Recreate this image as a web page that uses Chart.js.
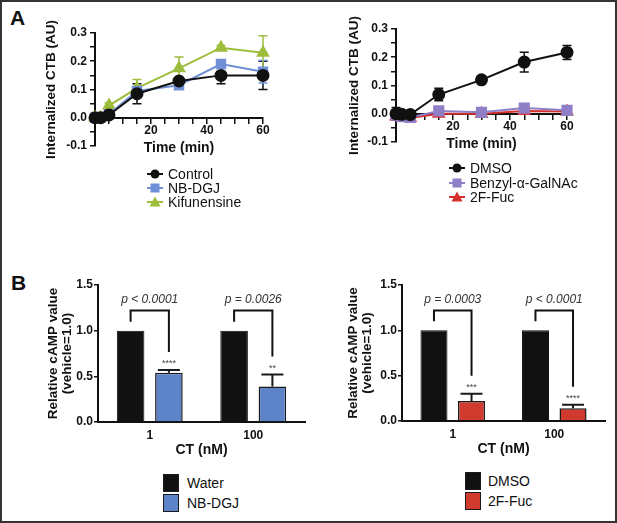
<!DOCTYPE html>
<html lang="en">
<head>
<meta charset="UTF-8">
<script src="https://cdn.jsdelivr.net/npm/chart.js"></script>
<style>
  body { margin: 0; background: #fff; font-family: 'Liberation Sans', Arial, sans-serif; color: #111; }
  #fig { position: relative; width: 617px; height: 523px; overflow: hidden; background: #fff; }
  #frame { position: absolute; left: 0; top: 0; width: 617px; height: 523px; box-sizing: border-box; border: 2px solid #333; pointer-events: none; }
  canvas { position: absolute; }
  .tag { position: absolute; font-weight: bold; font-size: 21px; line-height: 21px; }
  .legend { position: absolute; font-size: 14px; }
  .legend .row { display: flex; align-items: center; white-space: nowrap; }
  .legend svg { display: block; flex: none; }
  .legend .box { flex: none; box-sizing: border-box; width: 16px; height: 18px; border: 1.5px solid #1a1a1a; }
</style>
</head>
<body>
<div id="fig">
  <div class="tag" style="left:10px; top:7px;">A</div>
  <div class="tag" style="left:11px; top:272px;">B</div>

  <canvas id="ctbLeft" width="250" height="166" style="left:38px; top:20px;"></canvas>
  <canvas id="ctbRight" width="253" height="166" style="left:339px; top:16px;"></canvas>
  <canvas id="campLeft" width="270" height="187" style="left:40px; top:275px;"></canvas>
  <canvas id="campRight" width="270" height="186" style="left:340px; top:275px;"></canvas>

  <div class="legend" id="legA1" style="left:147px; top:167px;"></div>
  <div class="legend" id="legA2" style="left:449px; top:161px;"></div>
  <div class="legend" id="legB1" style="left:163px; top:473px;"></div>
  <div class="legend" id="legB2" style="left:465px; top:471px;"></div>

  <div id="frame"></div>
</div>

<script>
  // panel A - internalized CTB over time
  const timeMin = [0, 2, 5, 15, 30, 45, 60];

  const controlCTB = [0.0, 0.0, 0.01, 0.085, 0.13, 0.15, 0.15];
  const controlErr = [0.005, 0.005, 0.01, 0.035, 0.01, 0.03, 0.05];
  const nbdgjCTB = [0.0, 0.0, 0.012, 0.095, 0.115, 0.19, 0.163];
  const nbdgjErr = [0.01, 0.01, 0.01, 0.015, 0.01, 0.015, 0.04];
  const kifCTB = [0.0, 0.0, 0.043, 0.105, 0.175, 0.248, 0.23];
  const kifErr = [0.005, 0.005, 0.01, 0.03, 0.04, 0.008, 0.06];

  const dmsoCTB = [0.0, -0.002, -0.003, 0.068, 0.12, 0.183, 0.217];
  const dmsoErr = [0.022, 0.005, 0.005, 0.022, 0.006, 0.035, 0.025];
  const benzylCTB = [-0.005, -0.01, -0.013, 0.01, 0.005, 0.02, 0.012];
  const benzylErr = [0.005, 0.005, 0.005, 0.005, 0.005, 0.006, 0.005];
  const fucCTB = [-0.01, -0.012, -0.015, 0.0, 0.0, 0.01, 0.008];
  const fucErr = [0.005, 0.005, 0.005, 0.005, 0.005, 0.005, 0.005];

  // panel B - relative cAMP
  const ctNm = ['1', '100'];
  const waterCAMP = [1.0, 1.0];
  const nbdgjCAMP = [0.54, 0.39];
  const nbdgjCAMPErr = [0.03, 0.13];
  const dmsoCAMP = [1.0, 1.0];
  const fucCAMP = [0.22, 0.14];
  const fucCAMPErr = [0.08, 0.04];
  const pNbdgj = ['p < 0.0001', 'p = 0.0026'];
  const starsNbdgj = ['****', '**'];
  const pFuc = ['p = 0.0003', 'p < 0.0001'];
  const starsFuc = ['***', '****'];

  const FONT = "'Liberation Sans', Arial, sans-serif";
  Chart.defaults.font.family = FONT;
  Chart.defaults.color = '#111';

  // error bars drawn with the y scale of the chart
  function drawErrors(chart, opts) {
    const ctx = chart.ctx;
    const yScale = chart.scales.y;
    chart.data.datasets.forEach((ds, i) => {
      if (!ds.errors) return;
      const meta = chart.getDatasetMeta(i);
      ctx.save();
      ctx.strokeStyle = opts.color || ds.borderColor;
      ctx.lineWidth = opts.width;
      meta.data.forEach((el, j) => {
        const raw = ds.data[j];
        const v = typeof raw === 'object' ? raw.y : raw;
        const e = ds.errors[j];
        if (!e) return;
        const top = yScale.getPixelForValue(v + e);
        const bot = opts.upOnly ? yScale.getPixelForValue(v) : yScale.getPixelForValue(v - e);
        const half = opts.cap / 2;
        ctx.beginPath();
        ctx.moveTo(el.x, top);
        ctx.lineTo(el.x, bot);
        ctx.moveTo(el.x - half, top);
        ctx.lineTo(el.x + half, top);
        if (!opts.upOnly) {
          ctx.moveTo(el.x - half, bot);
          ctx.lineTo(el.x + half, bot);
        }
        ctx.stroke();
      });
      ctx.restore();
    });
  }

  const errorBarPlugin = {
    id: 'errorBars',
    beforeDatasetsDraw(chart, args, opts) { if (!opts.onTop) drawErrors(chart, opts); },
    afterDatasetsDraw(chart, args, opts) { if (opts.onTop) drawErrors(chart, opts); }
  };

  // significance brackets over each bar pair
  const bracketPlugin = {
    id: 'brackets',
    afterDatasetsDraw(chart, args, opts) {
      const ctx = chart.ctx;
      const yScale = chart.scales.y;
      const ctrl = chart.data.datasets[0];
      const trt = chart.data.datasets[1];
      const m0 = chart.getDatasetMeta(0);
      const m1 = chart.getDatasetMeta(1);
      const topPx = yScale.getPixelForValue(opts.top);
      ctx.save();
      opts.pText.forEach((txt, j) => {
        const x0 = m0.data[j].x;
        const x1 = m1.data[j].x;
        const leftBot = yScale.getPixelForValue(ctrl.data[j]) - 9;
        const starY = yScale.getPixelForValue(trt.data[j] + trt.errors[j]) - 8;
        const rightBot = starY - 10;
        ctx.strokeStyle = '#111';
        ctx.lineWidth = 2;
        ctx.beginPath();
        ctx.moveTo(x0, leftBot);
        ctx.lineTo(x0, topPx);
        ctx.lineTo(x1, topPx);
        ctx.lineTo(x1, rightBot);
        ctx.stroke();
        ctx.fillStyle = '#333';
        ctx.textAlign = 'center';
        ctx.textBaseline = 'middle';
        ctx.font = 'italic 12px ' + FONT;
        ctx.fillText(txt, (x0 + x1) / 2, topPx - 11);
        ctx.fillStyle = '#444';
        ctx.font = '9px ' + FONT;
        ctx.fillText(opts.stars[j], x1, starY + 2);
      });
      ctx.restore();
    }
  };

  function lineChart(id, series, titlePad) {
    return new Chart(document.getElementById(id), {
      type: 'line',
      data: {
        datasets: series.map(s => ({
          label: s.label,
          data: timeMin.map((t, i) => ({ x: t, y: s.values[i] })),
          errors: s.errors,
          borderColor: s.color,
          backgroundColor: s.color,
          pointBackgroundColor: s.color,
          pointBorderColor: s.color,
          pointStyle: s.shape,
          pointRadius: s.radius,
          borderWidth: 2,
          tension: 0,
          clip: false
        }))
      },
      options: {
        responsive: false,
        animation: false,
        layout: { padding: { top: 13, right: 25, bottom: 40, left: 0 }, autoPadding: false },
        plugins: {
          legend: { display: false },
          tooltip: { enabled: false },
          errorBars: { onTop: false, width: 1.5, cap: 9 }
        },
        scales: {
          x: {
            type: 'linear',
            position: { y: 0 },
            min: 0, max: 60,
            afterFit: s => { s.height = 40; },
            border: { display: true, color: '#111', width: 2 },
            grid: { drawOnChartArea: false, drawTicks: true, tickLength: 5, color: '#111', lineWidth: 1.5 },
            ticks: {
              stepSize: 5, autoSkip: false, maxRotation: 0, padding: 1,
              font: { size: 12, weight: 'bold' }, color: '#111',
              callback: v => (v > 0 && v % 20 === 0) ? String(v) : ''
            },
            title: { display: true, text: 'Time (min)', font: { size: 14, weight: 'bold' }, padding: { top: 0, bottom: 1 }, color: '#111' }
          },
          y: {
            min: -0.1, max: 0.3,
            afterFit: s => { s.width = 57; },
            border: { display: true, color: '#111', width: 2 },
            grid: { drawOnChartArea: false, drawTicks: true, tickLength: 5, color: '#111', lineWidth: 1.5 },
            ticks: {
              stepSize: 0.05, autoSkip: false, padding: 3,
              font: { size: 12, weight: 'bold' }, color: '#111',
              callback: v => {
                const r = Math.round(v * 100);
                return r % 10 === 0 ? (r / 100).toFixed(1) : '';
              }
            },
            title: { display: true, text: 'Internalized CTB (AU)', font: { size: 13.5, weight: 'bold' }, padding: { top: titlePad, bottom: 0 }, color: '#111' }
          }
        }
      },
      plugins: [errorBarPlugin]
    });
  }

  function barChart(id, ctrlLabel, ctrlVals, trtLabel, trtVals, trtErr, trtColor, pText, stars, yPad) {
    return new Chart(document.getElementById(id), {
      type: 'bar',
      data: {
        labels: ctNm,
        datasets: [
          { label: ctrlLabel, data: ctrlVals, backgroundColor: '#111', borderColor: '#111', borderWidth: 1 },
          { label: trtLabel, data: trtVals, errors: trtErr, backgroundColor: trtColor, borderColor: '#1a1a1a', borderWidth: 1.5 }
        ]
      },
      options: {
        responsive: false,
        animation: false,
        layout: { padding: { top: 10, right: 5, bottom: 0, left: 0 }, autoPadding: false },
        datasets: { bar: { categoryPercentage: 0.74, barPercentage: 0.72 } },
        plugins: {
          legend: { display: false },
          tooltip: { enabled: false },
          errorBars: { onTop: true, upOnly: true, width: 2, cap: 22, color: '#1a1a1a' },
          brackets: { top: 1.22, pText: pText, stars: stars }
        },
        scales: {
          x: {
            afterFit: s => { s.height = 40; },
            border: { display: true, color: '#111', width: 2 },
            grid: { display: false, drawTicks: false },
            ticks: { padding: 6, font: { size: 12, weight: 'bold' }, color: '#111' },
            title: { display: true, text: 'CT (nM)', font: { size: 14, weight: 'bold' }, padding: { top: 0, bottom: 3 }, color: '#111' }
          },
          y: {
            min: 0, max: 1.5,
            afterFit: s => { s.width = yPad.width; },
            border: { display: true, color: '#111', width: 2 },
            grid: { drawOnChartArea: false, drawTicks: true, tickLength: 4, color: '#111', lineWidth: 1.5 },
            ticks: { stepSize: 0.5, padding: 1, font: { size: 12, weight: 'bold' }, color: '#111', callback: v => v.toFixed(1) },
            title: {
              display: true, text: ['Relative cAMP value', '(vehicle=1.0)'],
              font: { size: 13.5, weight: 'bold', lineHeight: '14px' },
              padding: { top: yPad.title, bottom: 0 }, color: '#111'
            }
          }
        }
      },
      plugins: [errorBarPlugin, bracketPlugin]
    });
  }

  const seriesA1 = [
    { label: 'Control', values: controlCTB, errors: controlErr, color: '#111111', shape: 'circle', radius: 5.5 },
    { label: 'NB-DGJ', values: nbdgjCTB, errors: nbdgjErr, color: '#6f90d6', shape: 'rect', radius: 6 },
    { label: 'Kifunensine', values: kifCTB, errors: kifErr, color: '#9dbd3c', shape: 'triangle', radius: 6 }
  ];
  const seriesA2 = [
    { label: 'DMSO', values: dmsoCTB, errors: dmsoErr, color: '#111111', shape: 'circle', radius: 5.5 },
    { label: 'Benzyl-\u03b1-GalNAc', values: benzylCTB, errors: benzylErr, color: '#8f7fc6', shape: 'rect', radius: 6.5 },
    { label: '2F-Fuc', values: fucCTB, errors: fucErr, color: '#d5302c', shape: 'triangle', radius: 6 }
  ];

  lineChart('ctbLeft', seriesA1, 5);
  lineChart('ctbRight', seriesA2, 7);
  barChart('campLeft', 'Water', waterCAMP, 'NB-DGJ', nbdgjCAMP, nbdgjCAMPErr, '#5d84c8', pNbdgj, starsNbdgj, { width: 58, title: 6 });
  barChart('campRight', 'DMSO', dmsoCAMP, '2F-Fuc', fucCAMP, fucCAMPErr, '#d13a2f', pFuc, starsFuc, { width: 62, title: 6 });

  // legends
  function markerSvg(shape, color) {
    let m = '';
    if (shape === 'circle') m = `<circle cx="8" cy="6" r="4.5" fill="${color}"/>`;
    else if (shape === 'rect') m = `<rect x="3.5" y="1.5" width="9" height="9" fill="${color}"/>`;
    else m = `<polygon points="8,0.5 13.5,10.5 2.5,10.5" fill="${color}"/>`;
    return `<svg width="16" height="12"><line x1="0" y1="6" x2="16" y2="6" stroke="${color}" stroke-width="2"/>${m}</svg>`;
  }
  function lineLegend(id, series, rowH) {
    document.getElementById(id).innerHTML = series.map(s =>
      `<div class="row" style="height:${rowH}px">${markerSvg(s.shape, s.color)}<span style="margin-left:5px">${s.label}</span></div>`
    ).join('');
  }
  function boxLegend(id, items, gap) {
    document.getElementById(id).innerHTML = items.map(it =>
      `<div class="row" style="height:20px"><div class="box" style="background:${it.color}"></div><span style="margin-left:${gap}px">${it.label}</span></div>`
    ).join('');
  }
  lineLegend('legA1', seriesA1, 14);
  lineLegend('legA2', seriesA2, 14.5);
  boxLegend('legB1', [{ label: 'Water', color: '#111' }, { label: 'NB-DGJ', color: '#5d84c8' }], 8);
  boxLegend('legB2', [{ label: 'DMSO', color: '#111' }, { label: '2F-Fuc', color: '#d13a2f' }], 7);
</script>
</body>
</html>
